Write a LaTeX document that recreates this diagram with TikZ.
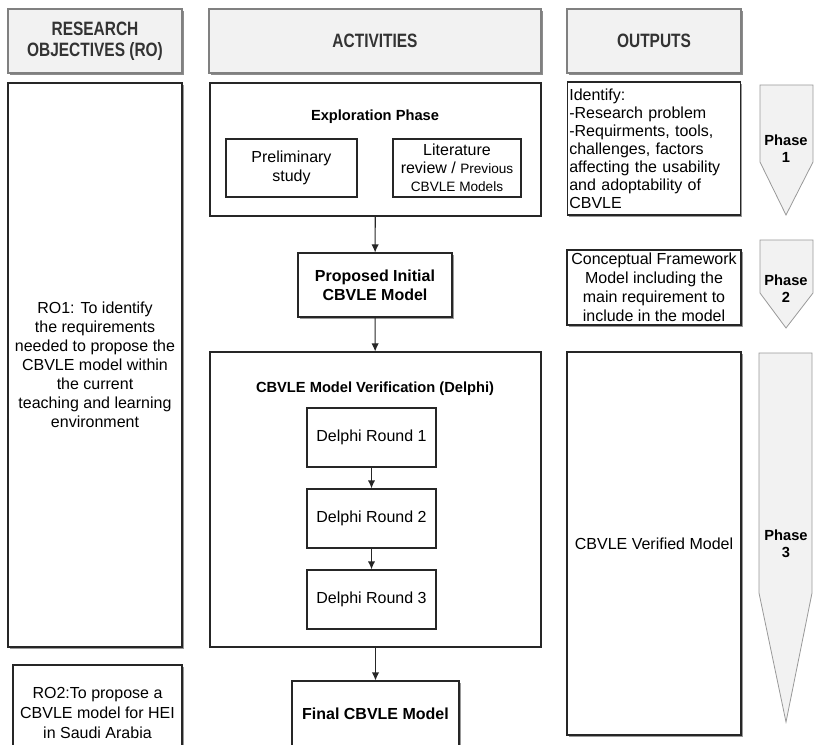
\documentclass[tikz,border=0pt]{standalone}
\usepackage{fontspec}
\setmainfont{Liberation Sans}
\newfontfamily\headfont[FakeStretch=0.8]{Liberation Sans}
\usetikzlibrary{arrows.meta,shadows}
\definecolor{panel}{HTML}{F2F2F2}

\begin{document}
\begin{tikzpicture}[x=0.75pt,y=-0.75pt,
    hdbox/.style={draw=black!50,fill=panel,line width=0.8pt,
      drop shadow={shadow xshift=1.5pt,shadow yshift=-1.5pt,fill=black!45,opacity=1},
      font=\headfont\bfseries\fontsize{14.5}{15.5}\selectfont,text=black!80,align=center,inner sep=0pt},
    box/.style={draw=black!85,fill=white,line width=0.8pt,align=center,inner sep=2pt,
      font=\fontsize{12}{14.25}\selectfont},
    shbox/.style={box,drop shadow={shadow xshift=1.2pt,shadow yshift=-1.2pt,fill=black!40,opacity=1}},
    title/.style={font=\bfseries\fontsize{11}{13}\selectfont,inner sep=1pt},
    phase/.style={draw=black!40,fill=panel,line width=0.6pt},
    phtext/.style={font=\bfseries\fontsize{11}{12.5}\selectfont,align=center,inner sep=0pt},
    link/.style={-{Latex[length=6pt,width=5.5pt]},line width=0.8pt,draw=black!85},
    rlink/.style={link,line width=1.4pt}]
    \useasboundingbox (0,0) rectangle (814,745);
    \clip (0,0) rectangle (814,745);

    % headers
    \node[hdbox,minimum width=130.5pt,minimum height=48pt] (hdro) at (95,41) {RESEARCH\\OBJECTIVES (RO)};
    \node[hdbox,minimum width=249pt,minimum height=48pt] (hdact) at (375,41) {ACTIVITIES};
    \node[hdbox,minimum width=130.5pt,minimum height=48pt] (hdout) at (654,41) {OUTPUTS};

    % research objectives
    \node[shbox,minimum width=130.5pt,minimum height=423pt] (ro1) at (95,365)
      {RO1: To identify\\the requirements\\needed to propose the\\CBVLE model within\\the current\\teaching and learning\\environment};
    \node[shbox,minimum width=126.75pt,minimum height=71.25pt,font=\fontsize{12}{15}\selectfont] (ro2) at (97.5,712.5)
      {RO2:To propose a\\CBVLE model for HEI\\in Saudi Arabia};

    % activities
    \node[box,minimum width=248.25pt,minimum height=99.75pt] (explore) at (375.5,149.5) {};
    \node[title] (exptitle) at (375,117) {Exploration Phase};
    \node[box,minimum width=98.25pt,minimum height=43.5pt] (prelim) at (291.5,168) {Preliminary\\study};
    \node[box,minimum width=96pt,minimum height=43.5pt,font=\fontsize{12}{13.5}\selectfont] (litrev) at (457,168)
      {Literature\\review / {\fontsize{10.2}{12}\selectfont Previous}\\{\fontsize{10.2}{12}\selectfont CBVLE Models}};
    \node[shbox,minimum width=115.5pt,minimum height=48pt,font=\bfseries\fontsize{12}{14.5}\selectfont] (initial) at (375,285)
      {Proposed Initial\\CBVLE Model};
    \node[box,minimum width=248.25pt,minimum height=221.25pt] (verify) at (375.5,499.5) {};
    \node[title] (vertitle) at (375,389) {CBVLE Model Verification (Delphi)};
    \node[box,minimum width=96.75pt,minimum height=44.25pt] (round1) at (371.5,437.5) {Delphi Round 1};
    \node[box,minimum width=96.75pt,minimum height=44.25pt] (round2) at (371.5,518.5) {Delphi Round 2};
    \node[box,minimum width=96.75pt,minimum height=44.25pt] (round3) at (371.5,599.5) {Delphi Round 3};
    \node[shbox,minimum width=125.25pt,minimum height=49.5pt,font=\bfseries\fontsize{12}{14}\selectfont] (final) at (375.5,714)
      {Final CBVLE Model};

    \draw[link] (explore) -- (initial);
    \draw[link] (initial) -- (verify);
    \draw[rlink] (round1) -- (round2);
    \draw[rlink] (round2) -- (round3);
    \draw[link] (verify) -- (final);

    % outputs
    \node[shbox,text width=127pt,inner sep=1.5pt,align=left,minimum height=99.75pt,font=\fontsize{12}{13.5}\selectfont] (identify) at (654,148.5)
      {Identify:\\-Research problem\\-Requirments, tools,\\challenges, factors\\affecting the usability\\and adoptability of\\CBVLE};
    \node[shbox,minimum width=130.5pt,minimum height=56.25pt,inner sep=1pt] (concept) at (654,287.5)
      {Conceptual Framework\\Model including the\\main requirement to\\include in the model};
    \node[shbox,minimum width=130.5pt,minimum height=287.25pt] (verified) at (654,543.5) {CBVLE Verified Model};

    % phases
    \draw[phase] (760,85) -- (813,85) -- (813,162) -- (786,215) -- (760,162) -- cycle;
    \node[phtext] (ph1) at (786,149) {Phase\\1};
    \draw[phase] (760,240) -- (813,240) -- (813,293) -- (786,328) -- (760,293) -- cycle;
    \node[phtext] (ph2) at (786,289) {Phase\\2};
    \draw[phase] (759,353) -- (812,353) -- (812,593) -- (786,722) -- (759,593) -- cycle;
    \node[phtext] (ph3) at (786,544) {Phase\\3};
\end{tikzpicture}
\end{document}
